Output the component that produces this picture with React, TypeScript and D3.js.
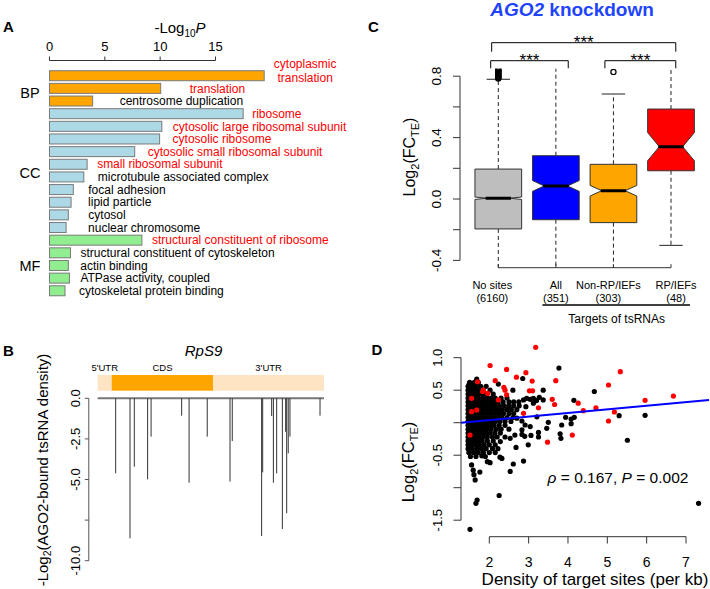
import React from "react";
import * as d3 from "d3";

const FONT = "'Liberation Sans', Arial, Helvetica, sans-serif";

// ---------- A: GO enrichment ----------
const goTerms = [
  "cytoplasmic translation", "translation", "centrosome duplication",
  "ribosome", "cytosolic large ribosomal subunit", "cytosolic ribosome",
  "cytosolic small ribosomal subunit", "small ribosomal subunit",
  "microtubule associated complex", "focal adhesion", "lipid particle",
  "cytosol", "nuclear chromosome",
  "structural constituent of ribosome", "structural constituent of cytoskeleton",
  "actin binding", "ATPase activity, coupled", "cytoskeletal protein binding",
];
const goCategory = ["BP", "BP", "BP", "CC", "CC", "CC", "CC", "CC", "CC", "CC", "CC", "CC", "CC", "MF", "MF", "MF", "MF", "MF"];
const goLogP = [19.4, 10.05, 3.9, 17.5, 10.15, 9.95, 7.7, 3.4, 3.1, 2.15, 1.95, 1.7, 1.5, 8.35, 1.9, 1.7, 1.8, 1.4];
const goRibosomal = [1, 1, 0, 1, 1, 1, 1, 1, 0, 0, 0, 0, 0, 1, 0, 0, 0, 0];
const goGroups = ["BP", "CC", "MF"];
const goTicks = [0, 5, 10, 15];

// ---------- B: RpS9 sites ----------
const geneParts = ["5'UTR", "CDS", "3'UTR"];
const genePartLength = [81, 588, 641];
const siteNt = [104, 187, 212, 289, 309, 486, 529, 634, 766, 779, 949, 955, 1007, 1017, 1036, 1069, 1088, 1094, 1103, 1113, 1287];
const siteScore = [-4.62, -8.62, -4.21, -4.99, -2.36, -1.07, -5.2, -2.36, -5.13, -2.63, -8.48, -4.56, -1.09, -5.2, -4.62, -8.05, -2.06, -7.08, -3.39, -2.36, -1.07];
const bTicks = [0, -2.5, -5, -7.5, -10];
const bTickLabels = ["0.0", "-2.5", "-5.0", "", "-10.0"];

// ---------- C: boxplots ----------
const boxGroups = ["No sites", "All", "Non-RP/IEFs", "RP/IEFs"];
const boxCounts = [6160, 351, 303, 48];
const boxLow = [-0.78, -0.75, -0.72, -0.302];
const boxQ1 = [-0.195, -0.135, -0.154, 0.184];
const boxMed = [0.005, 0.085, 0.054, 0.341];
const boxQ3 = [0.195, 0.282, 0.226, 0.586];
const boxHigh = [0.78, 0.9, 0.684, 1.0];
const boxOutliers = [
  [0.785, 0.79, 0.795, 0.8, 0.805, 0.81, 0.815, 0.82, 0.825, 0.83, 0.835, 0.84, 0.845, 0.85],
  [],
  [0.828],
  [],
];
const sigPairs = [[1, 2], [3, 4], [1, 4]];
const sigLabels = ["***", "***", "***"];
const cTicks = [-0.4, -0.2, 0, 0.2, 0.4, 0.6, 0.8];
const cTickLabels = ["-0.4", "", "0.0", "", "0.4", "", "0.8"];

// ---------- D: scatter ----------
const blackCluster: [number, number[]][] = [
  [0.62, [1.5, 1.62, 1.72]],
  [0.56, [1.46, 1.56, 1.66, 1.78, 1.92]],
  [0.5, [1.46, 1.55, 1.64, 1.74, 1.84, 2.02]],
  [0.44, [1.46, 1.54, 1.63, 1.72, 1.82, 1.92, 2.1]],
  [0.38, [1.46, 1.55, 1.64, 1.73, 1.84, 1.95, 2.05, 2.15, 2.3, 2.45]],
  [0.32, [1.46, 1.54, 1.63, 1.72, 1.82, 1.92, 2.02, 2.12, 2.22, 2.35, 2.5, 2.62, 2.75]],
  [0.26, [1.46, 1.55, 1.65, 1.75, 1.85, 1.95, 2.05, 2.15, 2.26, 2.38, 2.5, 2.62, 2.76]],
  [0.2, [1.46, 1.54, 1.63, 1.72, 1.82, 1.92, 2.02, 2.12, 2.22, 2.32, 2.44, 2.56, 2.7]],
  [0.14, [1.46, 1.55, 1.65, 1.75, 1.85, 1.95, 2.05, 2.15, 2.25, 2.36, 2.5, 2.62]],
  [0.08, [1.46, 1.54, 1.63, 1.72, 1.82, 1.92, 2.02, 2.12, 2.22, 2.32, 2.45, 2.6]],
  [0.02, [1.46, 1.55, 1.65, 1.75, 1.85, 1.95, 2.05, 2.15, 2.27, 2.4, 2.55]],
  [-0.04, [1.46, 1.54, 1.63, 1.72, 1.82, 1.92, 2.02, 2.12, 2.25, 2.4]],
  [-0.1, [1.46, 1.55, 1.65, 1.75, 1.85, 1.95, 2.05, 2.18, 2.3, 2.5]],
  [-0.16, [1.46, 1.54, 1.63, 1.72, 1.82, 1.92, 2.02, 2.14, 2.28]],
  [-0.22, [1.46, 1.55, 1.65, 1.75, 1.85, 1.95, 2.08, 2.2, 2.4]],
  [-0.28, [1.46, 1.54, 1.63, 1.72, 1.82, 1.95, 2.1]],
  [-0.34, [1.46, 1.55, 1.65, 1.75, 1.87, 2.0, 2.15]],
  [-0.4, [1.46, 1.56, 1.68, 1.8, 1.92, 2.08, 2.22]],
  [-0.46, [1.48, 1.6, 1.72, 1.85, 2.0, 2.15]],
  [-0.52, [1.52, 1.66, 1.9]],
];
const blackPoints: [number, number][] = [
  [3.77, 0.84], [2.85, 0.68], [2.23, 0.595], [2.6, 0.5], [3.37, 0.5], [3.27, 0.39], [4.67, 0.48],
  [4.15, 0.345], [5.3, 0.108], [5.96, 0.113], [5.51, -0.27], [7.32, -1.24], [2.87, -0.59],
  [3.21, 0.09], [3.94, 0.083], [4.08, 0.057], [4.16, 0.083], [3.84, -0.035], [4.08, -0.015],
  [3.5, 0.006], [3.46, -0.087], [3.04, -0.06], [2.83, 0.026], [2.83, -0.18], [3.06, -0.195],
  [3.25, -0.15], [3.25, -0.22], [3.8, -0.17], [3.82, -0.24], [2.95, 0.375], [3.12, 0.375],
  [2.87, 0.35], [3.12, 0.3], [2.93, 0.246], [3.04, 0.36], [3.37, 0.35], [3.2, 0.34],
  [2.68, -0.38], [2.32, -0.55], [2.61, -0.635], [2.53, -0.75], [2.27, -0.53], [2.02, -0.615],
  [1.95, -0.6], [1.81, -0.51], [1.55, -0.65], [1.59, -0.73], [1.76, -0.76], [1.61, -0.8],
  [1.64, -0.88], [2.25, -1.12], [1.69, -1.19], [1.66, -1.24], [1.51, -1.64], [2.28, -0.29],
  [2.53, -0.24], [2.65, -0.19], [2.9, -0.21], [2.99, -0.34], [2.7, 0.07], [2.91, -0.035],
  [2.83, -0.11], [1.68, 0.67], [1.49, 0.6],
];
const redPoints: [number, number][] = [
  [3.18, 1.16], [5.33, 0.785], [5.03, 0.58], [6.68, 0.41], [5.96, 0.345], [3.69, 0.646],
  [3.09, 0.64], [2.93, 0.77], [3.02, 0.49], [3.1, 0.49], [3.6, 0.36], [3.66, 0.28], [3.25, 0.23],
  [4.26, 0.3], [4.39, 0.185], [4.71, 0.23], [5.18, 0.165], [5.03, 0.026], [4.11, -0.19],
  [3.48, -0.3], [2.87, 0.145], [2.02, 0.88], [2.44, 0.82], [2.15, 0.646], [1.7, 0.63],
  [2.37, 0.545], [2.4, 0.5], [1.85, 0.5], [1.96, 0.45], [2.23, 0.35], [1.68, 0.195], [2.69, 0.7],
  [2.44, 0.43], [1.55, 0.375], [1.55, 0.17], [1.51, -0.19], [1.83, 0.48],
];
const fitIntercept = -0.073;
const fitSlope = 0.0555;
const dXTicks = [2, 3, 4, 5, 6, 7];
const dYTicks = [-1.5, -1, -0.5, 0, 0.5, 1];
const dYTickLabels = ["-1.5", "", "-0.5", "", "0.5", "1.0"];

// layout-only
const goFill: Record<string, string> = { BP: "#FFA500", CC: "#ADD8E6", MF: "#90EE90" };
const goLabelGap = [41, 29, 27, 9, 11, 13, 13, 10, 14, 15, 17, 20, 22, 10, 10, 12, 11, 14];
const goGroupShift = [10, 7, 6];
const partFill = ["#FFE4C4", "#FFA500", "#FFE4C4"];
const boxFill = ["#BEBEBE", "#0000FF", "#FFA500", "#FF0000"];
const boxLabelShift = [-6, 0, -5, 5];
const sigSpan = [[0.868, 2.215], [2.852, 4.083], [0.885, 4.083]];
const sigY = [60.7, 60.7, 42.7];

function PanelA() {
  const x = d3.scaleLinear().domain([0, 15]).range([49.5, 215.5]);
  const y = d3.scaleBand<string>().domain(goTerms).range([69.4, 297.1]).paddingInner(0.21).paddingOuter(0.105);
  const bw = y.bandwidth();
  return (
    <g>
      <text x={3} y={31.7} fontSize={15} fontWeight="bold">A</text>
      <text x={180} y={33} fontSize={15} textAnchor="middle">
        -Log<tspan fontSize={10} dy={4}>10</tspan><tspan dy={-4} fontStyle="italic">P</tspan>
      </text>
      <line x1={x(0)} x2={x(15)} y1={60.5} y2={60.5} stroke="#333" />
      {goTicks.map((t) => (
        <g key={t}>
          <line x1={x(t)} x2={x(t)} y1={56.5} y2={60.5} stroke="#333" />
          <text x={x(t)} y={50.5} fontSize={13} textAnchor="middle">{t}</text>
        </g>
      ))}
      {goTerms.map((term, i) => {
        const y0 = y(term)!;
        const end = x(goLogP[i]);
        const color = goRibosomal[i] ? "#FF0000" : "#000";
        return (
          <g key={term}>
            <rect x={x(0)} y={y0} width={end - x(0)} height={bw} fill={goFill[goCategory[i]]} stroke="#7a7a7a" strokeWidth={1} />
            {i === 0 ? (
              <text x={end + goLabelGap[i]} y={y0 + bw / 2} fontSize={12} fill={color} textAnchor="middle">
                <tspan x={end + goLabelGap[i]} dy={-7.5}>{term.split(" ")[0]}</tspan>
                <tspan x={end + goLabelGap[i]} dy={14}>{term.split(" ")[1]}</tspan>
              </text>
            ) : (
              <text x={end + goLabelGap[i]} y={y0 + bw / 2 + 4.2} fontSize={12} fill={color}>{term}</text>
            )}
          </g>
        );
      })}
      {goGroups.map((g, gi) => {
        const idx = goCategory.map((c, i) => (c === g ? i : -1)).filter((i) => i >= 0);
        const top = y(goTerms[idx[0]])!;
        const bot = y(goTerms[idx[idx.length - 1]])! + bw;
        return (
          <text key={g} x={30} y={(top + bot) / 2 + goGroupShift[gi]} fontSize={14.5} textAnchor="middle">{g}</text>
        );
      })}
    </g>
  );
}

function PanelB() {
  const total = d3.sum(genePartLength);
  const x = d3.scaleLinear().domain([0, total]).range([97.7, 324]);
  const y = d3.scaleLinear().domain([0, -10]).range([398.3, 560.7]);
  const starts = genePartLength.map((_, i) => d3.sum(genePartLength.slice(0, i)));
  const axX = 88.8;
  return (
    <g>
      <text x={3} y={355.7} fontSize={15} fontWeight="bold">B</text>
      <text x={203.5} y={356} fontSize={15} fontStyle="italic" textAnchor="middle">RpS9</text>
      {geneParts.map((p, i) => (
        <g key={p}>
          <rect x={x(starts[i])} y={375} width={x(starts[i] + genePartLength[i]) - x(starts[i])} height={15.7} fill={partFill[i]} />
          <text x={(x(starts[i]) + x(starts[i] + genePartLength[i])) / 2} y={371} fontSize={9.5} textAnchor="middle">{p}</text>
        </g>
      ))}
      <line x1={x(0)} x2={x(total)} y1={y(0)} y2={y(0)} stroke="#777" strokeWidth={2} />
      {siteNt.map((n, i) => (
        <line key={i} x1={x(n)} x2={x(n)} y1={y(0)} y2={y(siteScore[i])} stroke="#333" strokeWidth={1} />
      ))}
      <line x1={axX} x2={axX} y1={y(0)} y2={y(-10)} stroke="#555" />
      {bTicks.map((t, i) => (
        <g key={t}>
          <line x1={axX - 4} x2={axX} y1={y(t)} y2={y(t)} stroke="#555" />
          {bTickLabels[i] && (
            <text transform={`translate(80,${y(t)}) rotate(-90)`} fontSize={13} textAnchor="middle">{bTickLabels[i]}</text>
          )}
        </g>
      ))}
      <text transform="translate(47.5,470) rotate(-90)" fontSize={15} textAnchor="middle">
        -Log<tspan fontSize={10.5} dy={3.5}>2</tspan><tspan dy={-3.5}>(AGO2-bound tsRNA density)</tspan>
      </text>
    </g>
  );
}

function PanelC() {
  const x = d3.scaleLinear().domain([1, 4]).range([498.3, 671]);
  const y = d3.scaleLinear().domain([-0.4, 0.8]).range([260.4, 76.2]);
  const bw = 46.7;
  const nf = bw * 0.25;
  const axY = 267.7;
  return (
    <g>
      <defs>
        <clipPath id="clipC">
          <rect x={455} y={68.8} width={250} height={199} />
        </clipPath>
      </defs>
      <text x={368} y={31.7} fontSize={15} fontWeight="bold">C</text>
      <text x={572} y={15.5} fontSize={19} fontWeight="bold" fill="#1f44ff" textAnchor="middle">
        <tspan fontStyle="italic">AGO2</tspan> knockdown
      </text>
      <g clipPath="url(#clipC)">
        {boxGroups.map((g, i) => {
          const cx = x(i + 1);
          const x0 = cx - bw / 2;
          const x1 = cx + bw / 2;
          const notch = (1.58 * (boxQ3[i] - boxQ1[i])) / Math.sqrt(boxCounts[i]);
          const pts: [number, number][] = [
            [x0, y(boxQ1[i])], [x0, y(boxMed[i] - notch)], [x0 + nf, y(boxMed[i])], [x0, y(boxMed[i] + notch)],
            [x0, y(boxQ3[i])], [x1, y(boxQ3[i])], [x1, y(boxMed[i] + notch)], [x1 - nf, y(boxMed[i])],
            [x1, y(boxMed[i] - notch)], [x1, y(boxQ1[i])],
          ];
          return (
            <g key={g}>
              <line x1={cx} x2={cx} y1={y(boxQ3[i])} y2={y(boxHigh[i])} stroke="#222" strokeDasharray="4,3" />
              <line x1={cx} x2={cx} y1={y(boxQ1[i])} y2={y(boxLow[i])} stroke="#222" strokeDasharray="4,3" />
              <line x1={cx - bw / 4} x2={cx + bw / 4} y1={y(boxHigh[i])} y2={y(boxHigh[i])} stroke="#222" />
              <line x1={cx - bw / 4} x2={cx + bw / 4} y1={y(boxLow[i])} y2={y(boxLow[i])} stroke="#222" />
              <path d={d3.line()(pts)! + "Z"} fill={boxFill[i]} stroke="#333" strokeWidth={1} />
              <line x1={x0 + nf - 1} x2={x1 - nf + 1} y1={y(boxMed[i])} y2={y(boxMed[i])} stroke="#000" strokeWidth={3} />
              {boxOutliers[i].map((o, k) => (
                <circle key={k} cx={cx} cy={y(o)} r={2.6} fill="none" stroke="#000" strokeWidth={1.2} />
              ))}
            </g>
          );
        })}
      </g>
      <line x1={460} x2={460} y1={y(0.8)} y2={y(-0.4)} stroke="#333" />
      {cTicks.map((t, i) => (
        <g key={t}>
          <line x1={453} x2={460} y1={y(t)} y2={y(t)} stroke="#333" />
          {cTickLabels[i] && (
            <text transform={`translate(440.5,${y(t)}) rotate(-90)`} fontSize={13.5} textAnchor="middle">{cTickLabels[i]}</text>
          )}
        </g>
      ))}
      <text transform="translate(415,157) rotate(-90)" fontSize={16} textAnchor="middle">
        Log<tspan fontSize={11} dy={4}>2</tspan><tspan dy={-4}>(FC</tspan><tspan fontSize={11} dy={4}>TE</tspan><tspan dy={-4}>)</tspan>
      </text>
      <line x1={x(1)} x2={x(4)} y1={axY} y2={axY} stroke="#333" />
      {boxGroups.map((g, i) => (
        <g key={g}>
          <line x1={x(i + 1)} x2={x(i + 1)} y1={axY - 3.5} y2={axY} stroke="#333" />
          <text x={x(i + 1) + boxLabelShift[i]} y={289} fontSize={11} textAnchor="middle">{g}</text>
          <text x={x(i + 1) + boxLabelShift[i]} y={301.5} fontSize={11} textAnchor="middle">({boxCounts[i]})</text>
        </g>
      ))}
      <line x1={x(2) - 13.4} x2={x(4) + 19} y1={305} y2={305} stroke="#000" strokeWidth={1.5} />
      <text x={616.7} y={322.5} fontSize={12} textAnchor="middle">Targets of tsRNAs</text>
      {sigPairs.map((p, i) => {
        const xa = x(sigSpan[i][0]);
        const xb = x(sigSpan[i][1]);
        const legs = i === 2 ? 9 : 7.6;
        return (
          <g key={i}>
            <path d={`M${xa},${sigY[i] + legs}V${sigY[i]}H${xb}V${sigY[i] + legs}`} fill="none" stroke="#000" />
            <text x={(xa + xb) / 2} y={sigY[i] + 5} fontSize={17} textAnchor="middle">{sigLabels[i]}</text>
          </g>
        );
      })}
    </g>
  );
}

function PanelD() {
  const x = d3.scaleLinear().domain([2, 7]).range([489.3, 686]);
  const y = d3.scaleLinear().domain([0, 1]).range([422.7, 357.7]);
  const xl = x.invert(461);
  const xr = x.invert(709);
  const cluster: [number, number][] = blackCluster.flatMap(([yy, xs]) => xs.map((xx) => [xx, yy] as [number, number]));
  const r = 2.6;
  return (
    <g>
      <text x={371.5} y={355} fontSize={15} fontWeight="bold">D</text>
      {cluster.concat(blackPoints).map(([a, b], i) => (
        <circle key={"k" + i} cx={x(a)} cy={y(b)} r={r} fill="#000" />
      ))}
      {redPoints.map(([a, b], i) => (
        <circle key={"r" + i} cx={x(a)} cy={y(b)} r={r} fill="#FF0000" />
      ))}
      <line x1={x(xl)} x2={x(xr)} y1={y(fitIntercept + fitSlope * xl)} y2={y(fitIntercept + fitSlope * xr)} stroke="#0000FF" strokeWidth={2} />
      <line x1={461} x2={461} y1={y(1)} y2={y(-1.5)} stroke="#333" />
      {dYTicks.map((t, i) => (
        <g key={t}>
          <line x1={453.5} x2={461} y1={y(t)} y2={y(t)} stroke="#333" />
          {dYTickLabels[i] && (
            <text transform={`translate(441.5,${y(t)}) rotate(-90)`} fontSize={13} textAnchor="middle">{dYTickLabels[i]}</text>
          )}
        </g>
      ))}
      <line x1={x(2)} x2={x(7)} y1={536.7} y2={536.7} stroke="#333" />
      {dXTicks.map((t) => (
        <g key={t}>
          <line x1={x(t)} x2={x(t)} y1={536.7} y2={543.5} stroke="#333" />
          <text x={x(t)} y={566.5} fontSize={14} textAnchor="middle">{t}</text>
        </g>
      ))}
      <text x={595} y={585} fontSize={17} textAnchor="middle">Density of target sites (per kb)</text>
      <text transform="translate(414,462) rotate(-90)" fontSize={16.5} textAnchor="middle">
        Log<tspan fontSize={11} dy={4}>2</tspan><tspan dy={-4}>(FC</tspan><tspan fontSize={11} dy={4}>TE</tspan><tspan dy={-4}>)</tspan>
      </text>
      <text x={618} y={483} fontSize={15.5} textAnchor="middle">
        <tspan fontStyle="italic">ρ</tspan> = 0.167, <tspan fontStyle="italic">P</tspan> = 0.002
      </text>
    </g>
  );
}

export default function App() {
  return (
    <div style={{ position: "absolute", left: 0, top: 0 }}>
      <svg width={710} height={589} fontFamily={FONT} style={{ display: "block", background: "#fff" }}>
        <PanelA />
        <PanelB />
        <PanelC />
        <PanelD />
      </svg>
    </div>
  );
}
